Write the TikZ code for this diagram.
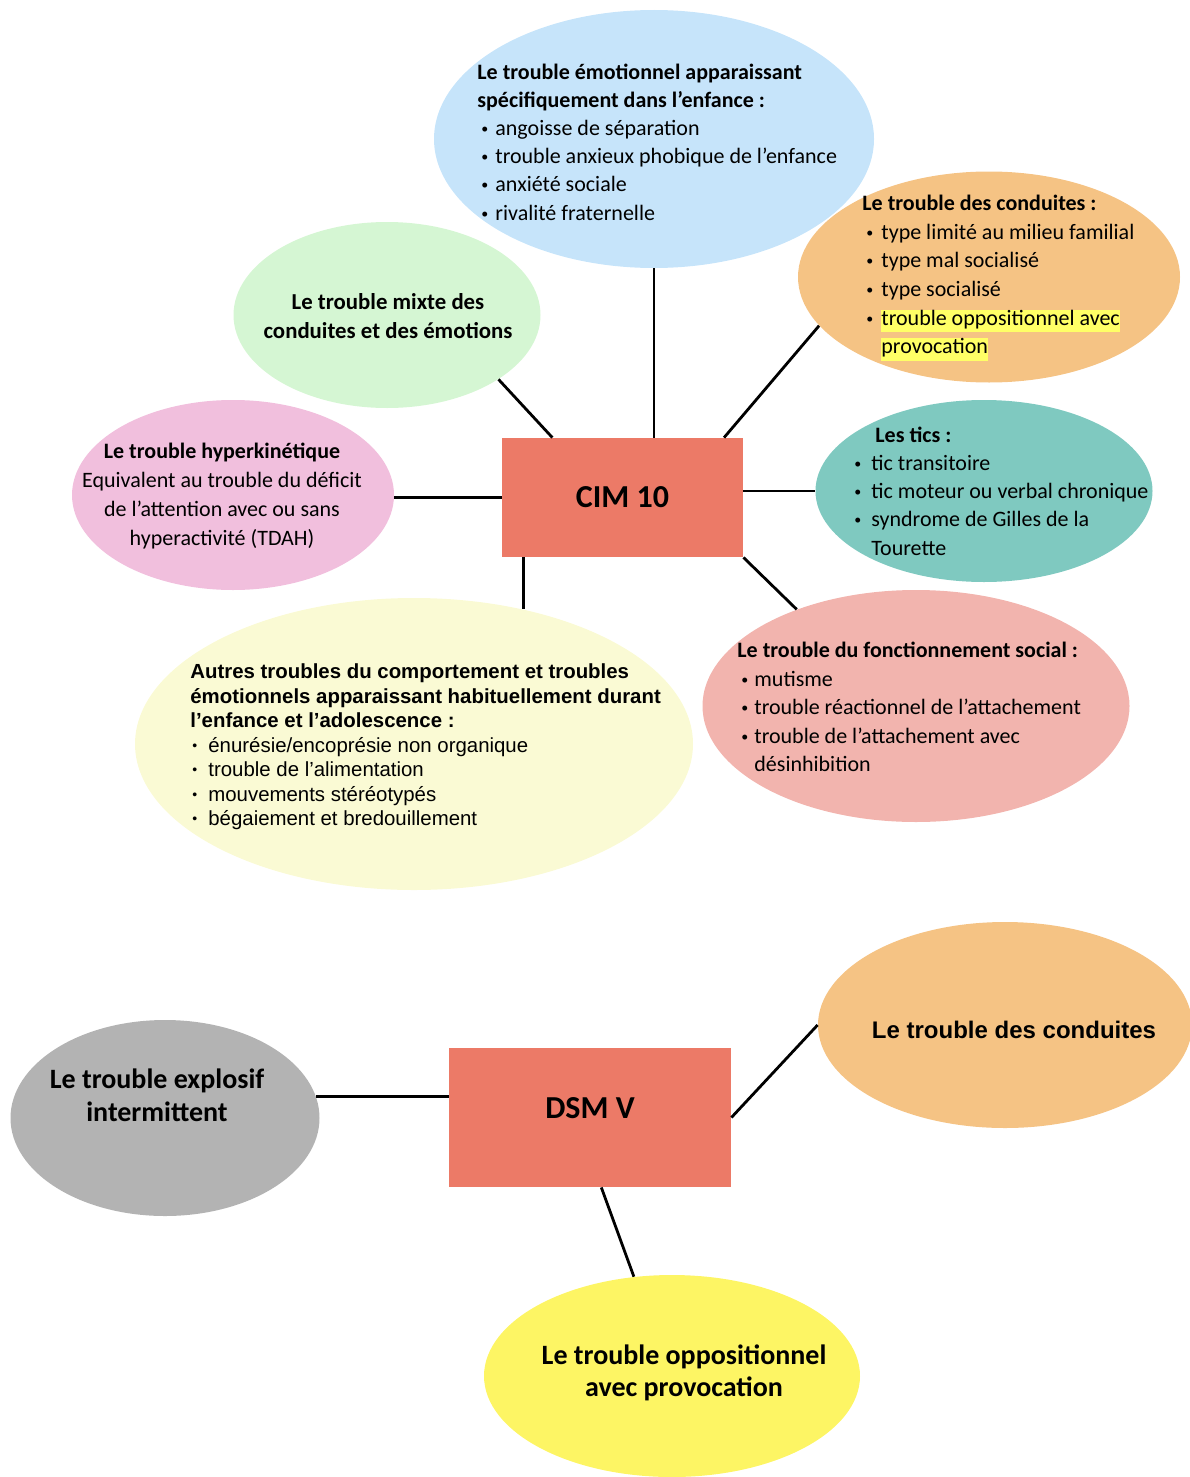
\documentclass[tikz,border=0pt]{standalone}
\usepackage{fontspec}
\setmainfont{Carlito}
\newfontfamily\arialfont{Liberation Sans}
\usetikzlibrary{shapes.geometric,calc}

\definecolor{emoblue}{HTML}{C6E4FA}
\definecolor{condorange}{HTML}{F5C384}
\definecolor{mixgreen}{HTML}{D5F6D3}
\definecolor{hyperpink}{HTML}{F1BFDD}
\definecolor{ticteal}{HTML}{7FC9C0}
\definecolor{autyellow}{HTML}{FAFAD4}
\definecolor{socsalmon}{HTML}{F2B4AE}
\definecolor{cimred}{HTML}{EC7A67}
\definecolor{explgray}{HTML}{B3B3B3}
\definecolor{oppyellow}{HTML}{FDF564}
\definecolor{hlyellow}{HTML}{FFFF66}

\newcommand\itm[1][7pt]{\makebox[#1][l]{\raisebox{1pt}{\fontsize{7}{7}\selectfont\textbullet}}}
\newcommand\hl[1]{{\setlength{\fboxsep}{0pt}\colorbox{hlyellow}{\rule[-3.6pt]{0pt}{10.6pt}#1}}}

\tikzset{
  bubble/.style={ellipse, inner sep=0pt},
  catbox/.style={rectangle, fill=cimred, inner sep=0pt, font=\bfseries\fontsize{16}{19}\selectfont},
  blocktxt/.style={align=left, inner sep=0pt, anchor=west, font=\fontsize{11}{14.1}\selectfont},
  midtxt/.style={align=center, inner sep=0pt, font=\bfseries\fontsize{11.4}{14.5}\selectfont},
  link/.style={line width=1.4pt},
}

\begin{document}
\begin{tikzpicture}[x=0.5pt,y=-0.5pt]
\useasboundingbox (0,0) rectangle (1189,1477);

% CIM 10 and its bubbles
\node[catbox, minimum width=120.5pt, minimum height=59.5pt] (cim) at (622.5,497.5) {CIM 10};

\node[bubble, fill=emoblue, minimum width=220pt, minimum height=129pt] (emo) at (654,139) {};
\node[blocktxt] (emotxt) at (477,142) {%
  \textbf{Le trouble émotionnel apparaissant}\\
  \textbf{spécifiquement dans l’enfance :}\\
  \hspace{2pt}\itm angoisse de séparation\\
  \hspace{2pt}\itm trouble anxieux phobique de l’enfance\\
  \hspace{2pt}\itm anxiété sociale\\
  \hspace{2pt}\itm rivalité fraternelle};

\node[bubble, fill=condorange, minimum width=191pt, minimum height=105.5pt] (cond) at (989,277) {};
\node[blocktxt, font=\fontsize{11}{14.3}\selectfont] (condtxt) at (862,278) {%
  \textbf{Le trouble des conduites :}\\
  \hspace{2pt}\itm[7.5pt]type limité au milieu familial\\
  \hspace{2pt}\itm[7.5pt]type mal socialisé\\
  \hspace{2pt}\itm[7.5pt]type socialisé\\
  \hspace{2pt}\itm[7.5pt]\hl{trouble oppositionnel avec}\\
  \hspace{9.5pt}\hl{provocation}};

\node[bubble, fill=mixgreen, minimum width=153.5pt, minimum height=93pt] (mix) at (387,315) {};
\node[midtxt] (mixtxt) at (388,316) {Le trouble mixte des\\conduites et des émotions};

\node[bubble, fill=hyperpink, minimum width=161pt, minimum height=95pt] (hyper) at (233,495) {};
\node[midtxt, font=\fontsize{11}{14.5}\selectfont] (hypertxt) at (222,496) {%
  \textbf{Le trouble hyperkinétique}\\
  Equivalent au trouble du déficit\\
  de l’attention avec ou sans\\
  hyperactivité (TDAH)};

\node[bubble, fill=ticteal, minimum width=168.5pt, minimum height=91pt] (tics) at (984,491) {};
\node[blocktxt] (ticstxt) at (854,491) {%
  \hspace{10.5pt}\textbf{Les tics :}\\
  \itm[8.5pt]tic transitoire\\
  \itm[8.5pt]tic moteur ou verbal chronique\\
  \itm[8.5pt]syndrome de Gilles de la\\
  \hspace{8.5pt}Tourette};

\node[bubble, fill=autyellow, minimum width=279pt, minimum height=146pt] (autres) at (414,744) {};
\node[blocktxt, font=\arialfont\fontsize{10.2}{12.25}\selectfont] (autrestxt) at (190,747) {%
  \textbf{Autres troubles du comportement et troubles}\\
  \textbf{émotionnels apparaissant habituellement durant}\\
  \textbf{l’enfance et l’adolescence :}\\
  \hspace{1pt}\itm[8pt]énurésie/encoprésie non organique\\
  \hspace{1pt}\itm[8pt]trouble de l’alimentation\\
  \hspace{1pt}\itm[8pt]mouvements stéréotypés\\
  \hspace{1pt}\itm[8pt]bégaiement et bredouillement};

\node[bubble, fill=socsalmon, minimum width=213.5pt, minimum height=116pt] (soc) at (916,706) {};
\node[blocktxt, font=\fontsize{11}{14.3}\selectfont] (soctxt) at (737,707) {%
  \textbf{Le trouble du fonctionnement social :}\\
  \hspace{2pt}\itm[6.5pt]mutisme\\
  \hspace{2pt}\itm[6.5pt]trouble réactionnel de l’attachement\\
  \hspace{2pt}\itm[6.5pt]trouble de l’attachement avec\\
  \hspace{8.5pt}désinhibition};

\draw[link] (cim.north -| emo.south) -- (emo.south);
\draw[link] ($(cim.north west)!0.21!(cim.north east)$) -- (mix.-30);
\draw[link] ($(cim.north west)!0.92!(cim.north east)$) -- (cond.196);
\draw[link] (cim.west) -- (cim.west -| hyper.east);
\draw[link] (tics.west -| cim.east) -- (tics.west);
\draw[link] (autres.51 |- cim.south) -- (autres.51);
\draw[link] (cim.south east) -- (soc.141);

% DSM V and its bubbles
\node[catbox, minimum width=141pt, minimum height=69.5pt] (dsm) at (590,1117.5) {\raisebox{10pt}{DSM V}\hspace{9pt}};

\node[bubble, fill=explgray, minimum width=154.5pt, minimum height=98pt] (expl) at (165,1118) {};
\node[midtxt, font=\bfseries\fontsize{14}{16.5}\selectfont] (expltxt) at (157,1095) {Le trouble explosif\\intermittent};

\node[bubble, fill=condorange, minimum width=187pt, minimum height=103pt] (cond2) at (1005,1025) {};
\node[midtxt, font=\arialfont\bfseries\fontsize{12}{15}\selectfont] (cond2txt) at (1014,1030) {Le trouble des conduites};

\node[bubble, fill=oppyellow, minimum width=188pt, minimum height=101pt] (opp) at (672,1376) {};
\node[midtxt, font=\bfseries\fontsize{14}{16}\selectfont] (opptxt) at (684,1373) {Le trouble oppositionnel\\avec provocation};

\draw[link] (expl.8 -| dsm.west) -- (expl.8);
\draw[link] (dsm.east) -- (cond2.west);
\draw[link] ($(dsm.south west)!0.54!(dsm.south east)$) -- (opp.111);
\end{tikzpicture}
\end{document}
